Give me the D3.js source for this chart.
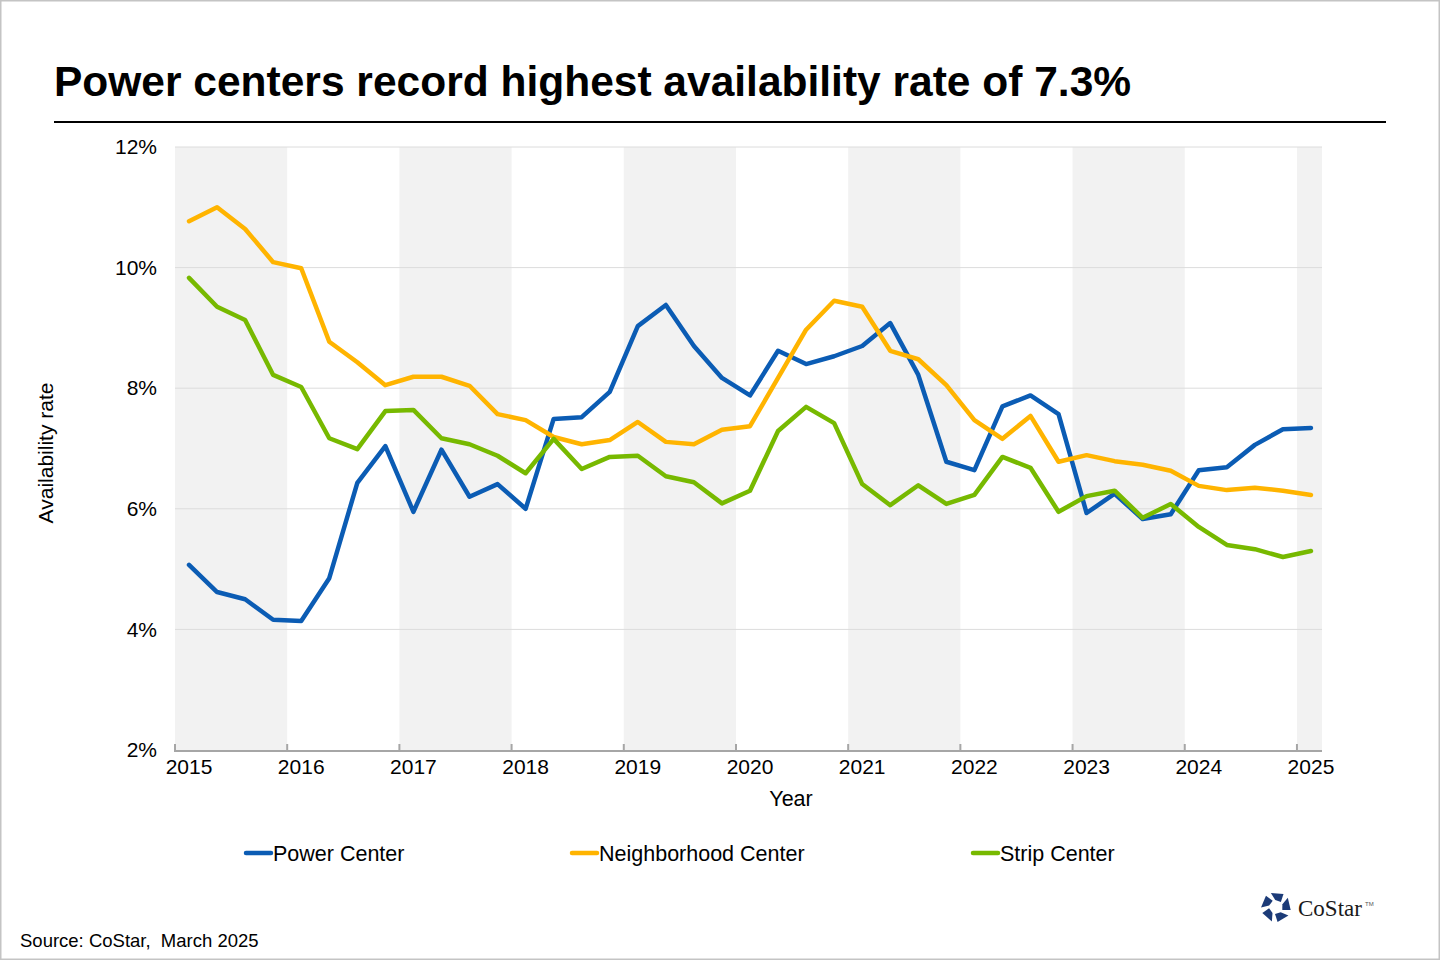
<!DOCTYPE html>
<html>
<head>
<meta charset="utf-8">
<script src="https://cdn.jsdelivr.net/npm/d3@7"></script>
<style>
  body { margin: 0; background: #fff; }
  svg { display: block; font-family: "Liberation Sans", Arial, sans-serif; }
</style>
</head>
<body>
<svg id="chart" width="1440" height="960"></svg>
<script>
// quarters 2015 Q1 .. 2025 Q1
const quarters = [
  '2015Q1', '2015Q2', '2015Q3', '2015Q4', '2016Q1', '2016Q2', '2016Q3', '2016Q4',
  '2017Q1', '2017Q2', '2017Q3', '2017Q4', '2018Q1', '2018Q2', '2018Q3', '2018Q4',
  '2019Q1', '2019Q2', '2019Q3', '2019Q4', '2020Q1', '2020Q2', '2020Q3', '2020Q4',
  '2021Q1', '2021Q2', '2021Q3', '2021Q4', '2022Q1', '2022Q2', '2022Q3', '2022Q4',
  '2023Q1', '2023Q2', '2023Q3', '2023Q4', '2024Q1', '2024Q2', '2024Q3', '2024Q4',
  '2025Q1'
];
const years = ['2015', '2016', '2017', '2018', '2019', '2020', '2021', '2022', '2023', '2024', '2025'];
const yTicks = [2, 4, 6, 8, 10, 12];

const powerCenter = [
  5.07, 4.62, 4.50, 4.16, 4.14, 4.85, 6.43, 7.04, 5.95, 6.98, 6.20, 6.41,
  6.00, 7.49, 7.52, 7.94, 9.03, 9.38, 8.70, 8.17, 7.88, 8.62, 8.40, 8.53,
  8.70, 9.08, 8.22, 6.78, 6.64, 7.70, 7.88, 7.57, 5.93, 6.25, 5.83, 5.91,
  6.64, 6.69, 7.06, 7.32, 7.34
];
const neighborhoodCenter = [
  10.77, 11.00, 10.64, 10.09, 9.99, 8.77, 8.43, 8.05, 8.19, 8.19, 8.04, 7.57,
  7.47, 7.19, 7.07, 7.14, 7.44, 7.11, 7.07, 7.31, 7.37, 8.17, 8.97, 9.45,
  9.35, 8.62, 8.48, 8.05, 7.47, 7.16, 7.54, 6.78, 6.89, 6.79, 6.73, 6.63,
  6.38, 6.31, 6.35, 6.30, 6.23
];
const stripCenter = [
  9.83, 9.35, 9.13, 8.22, 8.02, 7.17, 6.99, 7.62, 7.64, 7.17, 7.07, 6.88,
  6.59, 7.16, 6.66, 6.86, 6.88, 6.54, 6.44, 6.09, 6.30, 7.29, 7.69, 7.42,
  6.41, 6.06, 6.39, 6.08, 6.23, 6.86, 6.68, 5.95, 6.21, 6.30, 5.85, 6.08,
  5.70, 5.40, 5.33, 5.20, 5.30
];

const seriesNames = ['Power Center', 'Neighborhood Center', 'Strip Center'];
const seriesColors = ['#0b5cb4', '#ffb400', '#77b900'];

const series = [
  { name: seriesNames[0], values: powerCenter, color: seriesColors[0] },
  { name: seriesNames[1], values: neighborhoodCenter, color: seriesColors[1] },
  { name: seriesNames[2], values: stripCenter, color: seriesColors[2] }
];

const svg = d3.select('#chart');

const plotLeft = 175;
const plotRight = 1322; // visible end of the plot area
const bandEnd = 1325;   // last quarter band runs slightly past it
const plotTop = 147;
const plotBottom = 750;

const xScale = d3.scaleBand()
  .domain(quarters)
  .range([plotLeft, bandEnd])
  .padding(0);

const yScale = d3.scaleLinear()
  .domain([2, 12])
  .range([plotBottom, plotTop]);

const bw = xScale.bandwidth();

// outer frame
svg.append('rect')
  .attr('x', 0.75).attr('y', 0.75)
  .attr('width', 1438.5).attr('height', 958.5)
  .attr('fill', 'none')
  .attr('stroke', '#c4c4c4')
  .attr('stroke-width', 1.5);

// title + rule
svg.append('text')
  .attr('x', 54).attr('y', 96)
  .attr('font-size', '42.5px')
  .attr('font-weight', 'bold')
  .attr('fill', '#000')
  .text('Power centers record highest availability rate of 7.3%');

svg.append('line')
  .attr('x1', 54).attr('x2', 1386)
  .attr('y1', 122).attr('y2', 122)
  .attr('stroke', '#000')
  .attr('stroke-width', 2);

// shaded year bands (every other year)
svg.append('g')
  .selectAll('rect')
  .data(years.filter((y, i) => i % 2 === 0))
  .enter()
  .append('rect')
  .attr('x', (y) => xScale(y + 'Q1'))
  .attr('y', plotTop)
  .attr('width', (y) => {
    const next = String(+y + 1) + 'Q1';
    const end = quarters.includes(next) ? xScale(next) : plotRight;
    return end - xScale(y + 'Q1');
  })
  .attr('height', plotBottom - plotTop)
  .attr('fill', '#f2f2f2');

// gridlines
svg.append('g')
  .selectAll('line')
  .data(yTicks.filter((t) => t !== 2))
  .enter()
  .append('line')
  .attr('x1', plotLeft).attr('x2', plotRight)
  .attr('y1', (t) => yScale(t)).attr('y2', (t) => yScale(t))
  .attr('stroke', '#dcdcdc')
  .attr('stroke-width', 1);

// y axis labels
const yAxis = d3.axisLeft(yScale)
  .tickValues(yTicks)
  .tickSize(0)
  .tickPadding(18)
  .tickFormat((d) => d + '%');

svg.append('g')
  .attr('transform', `translate(${plotLeft},0)`)
  .call(yAxis)
  .call((g) => g.select('.domain').remove())
  .selectAll('text')
  .attr('font-family', '"Liberation Sans", Arial, sans-serif')
  .attr('font-size', '21px')
  .attr('fill', '#000');

// x axis labels at each year's Q1
const xAxis = d3.axisBottom(xScale)
  .tickValues(years.map((y) => y + 'Q1'))
  .tickSize(0)
  .tickPadding(9)
  .tickFormat((d) => d.slice(0, 4));

svg.append('g')
  .attr('transform', `translate(0,${plotBottom})`)
  .call(xAxis)
  .call((g) => g.select('.domain').remove())
  .selectAll('text')
  .attr('font-family', '"Liberation Sans", Arial, sans-serif')
  .attr('font-size', '21px')
  .attr('fill', '#000');

// axis line and tick marks at year boundaries
svg.append('line')
  .attr('x1', plotLeft).attr('x2', plotRight)
  .attr('y1', plotBottom + 1).attr('y2', plotBottom + 1)
  .attr('stroke', '#a6a6a6')
  .attr('stroke-width', 2);

svg.append('g')
  .selectAll('line')
  .data(years)
  .enter()
  .append('line')
  .attr('x1', (y) => xScale(y + 'Q1'))
  .attr('x2', (y) => xScale(y + 'Q1'))
  .attr('y1', plotBottom - 6)
  .attr('y2', plotBottom + 2)
  .attr('stroke', '#a6a6a6')
  .attr('stroke-width', 2);

// axis titles
svg.append('text')
  .attr('x', 791).attr('y', 806)
  .attr('text-anchor', 'middle')
  .attr('font-size', '21.5px')
  .text('Year');

svg.append('text')
  .attr('transform', 'translate(53,453) rotate(-90)')
  .attr('text-anchor', 'middle')
  .attr('font-size', '21px')
  .text('Availability rate');

// lines
const lineFunction = d3.line()
  .x((d, i) => xScale(quarters[i]) + bw / 2)
  .y((d) => yScale(d))
  .curve(d3.curveLinear);

svg.append('g')
  .selectAll('path')
  .data(series)
  .enter()
  .append('path')
  .attr('d', (s) => lineFunction(s.values))
  .attr('stroke', (s) => s.color)
  .attr('stroke-width', 4.5)
  .attr('stroke-linejoin', 'round')
  .attr('stroke-linecap', 'round')
  .attr('fill', 'none');

// legend
const legendX = [244, 570, 971];
const legend = svg.append('g')
  .selectAll('g')
  .data(series)
  .enter()
  .append('g')
  .attr('transform', (s, i) => `translate(${legendX[i]},853)`);

legend.append('line')
  .attr('x1', 2).attr('x2', 27)
  .attr('y1', 0).attr('y2', 0)
  .attr('stroke', (s) => s.color)
  .attr('stroke-width', 4.5)
  .attr('stroke-linecap', 'round');

legend.append('text')
  .attr('x', 29).attr('y', 7.5)
  .attr('font-size', '21.5px')
  .attr('fill', '#000')
  .text((s) => s.name);

// source
svg.append('text')
  .attr('x', 20).attr('y', 947)
  .attr('font-size', '18.5px')
  .attr('fill', '#000')
  .style('white-space', 'pre')
  .text('Source: CoStar,  March 2025');

// CoStar logo
const logo = svg.append('g').attr('transform', 'translate(1276,907)');
const pieces = [0, 1, 2, 3, 4];
logo.selectAll('path')
  .data(pieces)
  .enter()
  .append('path')
  .attr('d', (k) => {
    const a0 = (k * 72 - 90 - 20) * Math.PI / 180;
    const a1 = a0 + 50 * Math.PI / 180;
    const ro = 15;
    const ri = 7;
    const b0 = a0 + 14 * Math.PI / 180;
    const b1 = a1 + 14 * Math.PI / 180;
    const p = [
      [ro * Math.cos(a0), ro * Math.sin(a0)],
      [ro * Math.cos(a1), ro * Math.sin(a1)],
      [ri * Math.cos(b1), ri * Math.sin(b1)],
      [ri * Math.cos(b0), ri * Math.sin(b0)]
    ];
    return 'M' + p.map((q) => q.join(',')).join('L') + 'Z';
  })
  .attr('fill', '#1c3b78');

svg.append('text')
  .attr('x', 1298).attr('y', 916)
  .attr('font-family', '"Liberation Serif", "DejaVu Serif", serif')
  .attr('font-size', '23px')
  .attr('fill', '#1a1a1a')
  .text('CoStar');

svg.append('text')
  .attr('x', 1365).attr('y', 906)
  .attr('font-size', '6px')
  .attr('fill', '#555')
  .text('TM');
</script>
</body>
</html>
